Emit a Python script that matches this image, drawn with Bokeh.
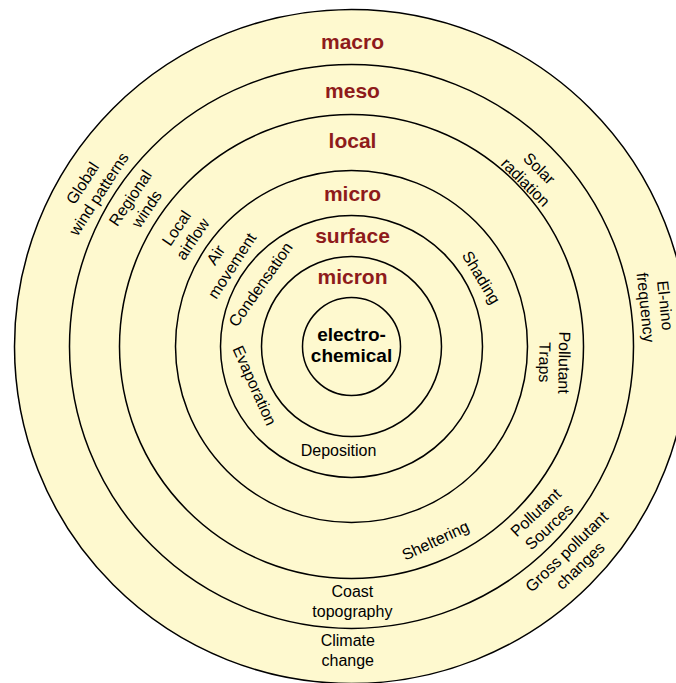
import numpy as np
from bokeh.plotting import figure
from bokeh.models import ColumnDataSource
from bokeh.core.properties import value
from bokeh.embed import file_html
from bokeh.resources import INLINE

# ---- data ----
ring_radius = [337, 282, 232, 176, 131, 90, 49]

scale_names = ["macro", "meso", "local", "micro", "surface", "micron"]
scale_label_r = [305, 256, 206, 153, 111, 70]

core_label = "electro-\nchemical"

factor_text = [
    "Global\nwind patterns", "Regional\nwinds", "Local\nairflow", "Air\nmovement",
    "Condensation", "Evaporation", "Deposition", "Shading",
    "Pollutant\nTraps", "Solar\nradiation", "El-nino\nfrequency",
    "Gross pollutant\nchanges", "Pollutant\nSources", "Sheltering",
    "Coast\ntopography", "Climate\nchange",
]
factor_angle = [148.8, 146.1, 145.9, 146.0, 145.7, 201.9, -97.1, 28.0,
                -4.5, 43.4, 7.5, -43.7, -42.2, -66.6, -89.8, -90.7]
factor_radius = [305, 256.6, 201.6, 154, 110, 104.5, 104.8, 147,
                 203.6, 249, 306.6, 307, 257.7, 211.4, 255, 304]
factor_rotation = [57, 56, 56, 57, 55, -66, 0, -59,
                   -91, -45, -84, 44, 43, 25, 0, 0]

# ---- figure ----
FILL = "#FEF9CF"
RED = "#8E1B1B"
FONT = value("Liberation Sans")

p = figure(width=676, height=683, x_range=(-351, 325), y_range=(-337, 346),
           output_backend="svg", toolbar_location=None,
           x_axis_location=None, y_axis_location=None, min_border=0)
p.grid.visible = False
p.outline_line_color = None
p.background_fill_color = "white"
p.border_fill_color = "white"

rings = ColumnDataSource(dict(x=[0] * len(ring_radius), y=[0] * len(ring_radius),
                              r=ring_radius))
p.circle(x="x", y="y", radius="r", source=rings, fill_color=FILL,
         line_color="black", line_width=1.5)

scales = ColumnDataSource(dict(x=[1] * len(scale_names), y=scale_label_r,
                               text=scale_names))
p.text(x="x", y="y", text="text", source=scales, text_align="center",
       text_baseline="middle", text_font=FONT, text_font_size="21px",
       text_font_style="bold", text_color=RED)

p.text(x=[0], y=[2], text=[core_label], text_align="center",
       text_baseline="middle", text_font=FONT, text_font_size="19px",
       text_font_style="bold", text_color="black", text_line_height=1.0)

th = np.radians(factor_angle)
fr = np.array(factor_radius)
factors = ColumnDataSource(dict(x=fr * np.cos(th), y=fr * np.sin(th),
                                text=factor_text,
                                angle=np.radians(factor_rotation)))
p.text(x="x", y="y", text="text", angle="angle", source=factors,
       text_align="center", text_baseline="middle", text_font=FONT,
       text_font_size="16px", text_color="black", text_line_height=1.15)

open("out.html", "w").write(file_html(p, INLINE))
